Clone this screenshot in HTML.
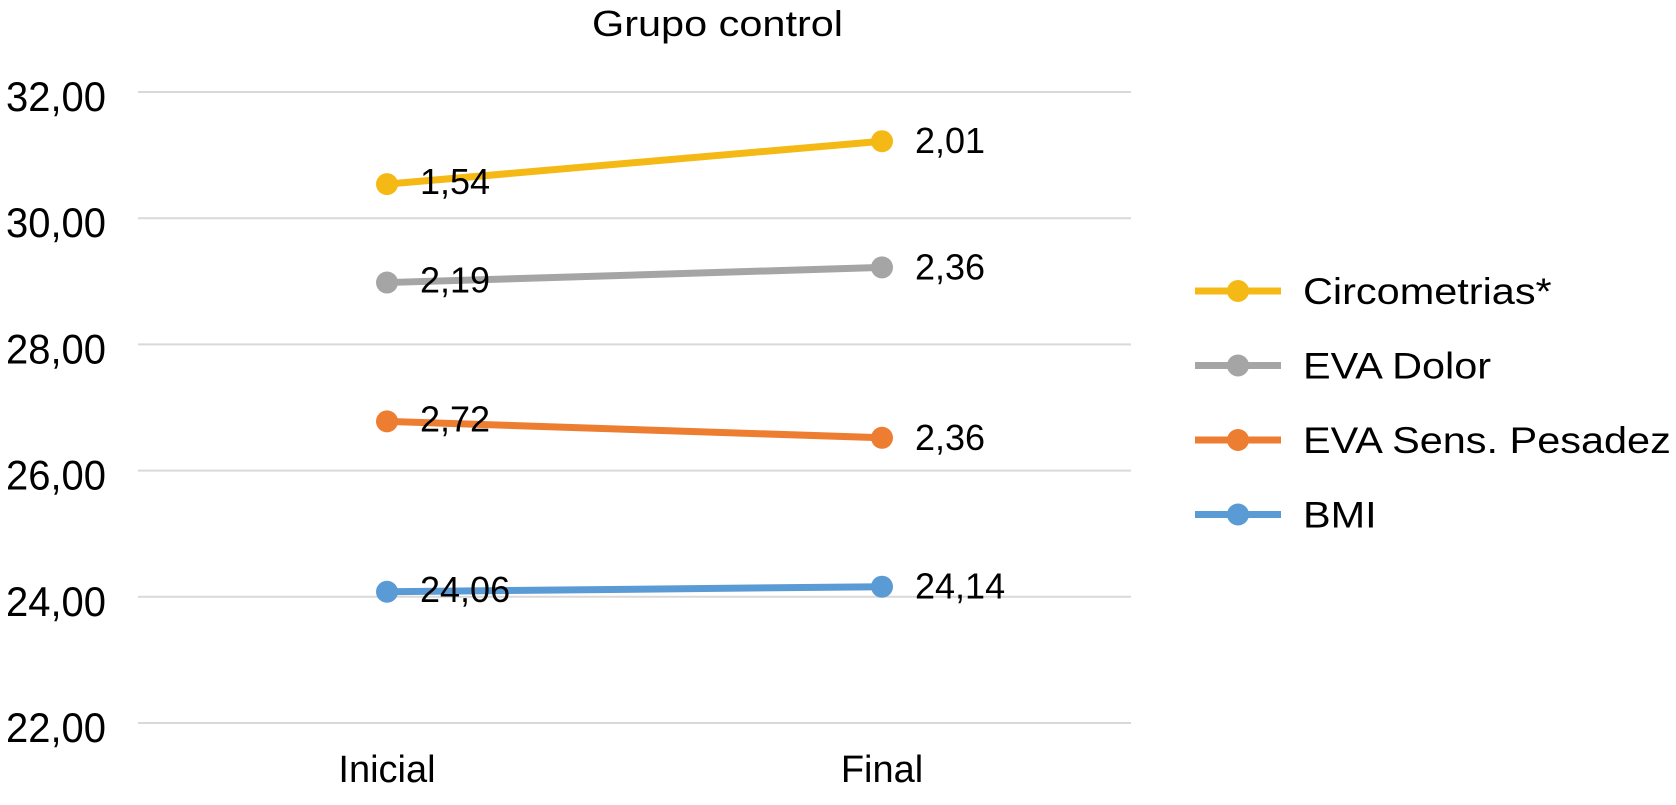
<!DOCTYPE html>
<html><head><meta charset="utf-8"><style>
html,body{margin:0;padding:0;background:#fff;}
svg{display:block;font-family:"Liberation Sans",sans-serif;}
</style></head><body>
<svg id="chart" width="1676" height="805">
<text x="592" y="36" font-size="36" textLength="251" lengthAdjust="spacingAndGlyphs">Grupo control</text>
<g id="grid"></g><g id="series"></g><g id="legend"></g>
</svg>
<script>
const categories=["Inicial","Final"];
const seriesNames=["Circometrias*","EVA Dolor","EVA Sens. Pesadez","BMI"];
const colors=["#F5B915","#A5A5A5","#ED7D31","#5B9BD5"];
const circValues=[30.54,31.22];
const dolorValues=[28.98,29.22];
const pesadezValues=[26.78,26.52];
const bmiValues=[24.08,24.16];
const circLabels=["1,54","2,01"];
const dolorLabels=["2,19","2,36"];
const pesadezLabels=["2,72","2,36"];
const bmiLabels=["24,06","24,14"];
const yTicks=[22,24,26,28,30,32];
const yTickLabels=["22,00","24,00","26,00","28,00","30,00","32,00"];
const NS="http://www.w3.org/2000/svg";
const y=v=>92+(32-v)*63.1;
const x=i=>387+i*495;
function mk(t,a,p){const e=document.createElementNS(NS,t);for(const k in a)e.setAttribute(k,a[k]);p.appendChild(e);return e;}
function stretch(t,k){const w=t.getComputedTextLength();t.setAttribute('textLength',w*k);t.setAttribute('lengthAdjust','spacingAndGlyphs');}
const grid=document.getElementById('grid');
yTicks.forEach((t,i)=>{
 const l=mk('line',{x1:138,x2:1131,y1:y(t),y2:y(t),stroke:'#d9d9d9','stroke-width':2},grid);
 
 
 const tx=mk('text',{x:6,y:y(t)+19,'font-size':42},grid);
 tx.textContent=yTickLabels[i];
 
 
 tx.setAttribute('textLength',100);
 tx.setAttribute('lengthAdjust','spacingAndGlyphs');
});
categories.forEach((c,i)=>{
 const tx=mk('text',{x:x(i),y:782,'font-size':38,'text-anchor':'middle'},grid);
 tx.textContent=c;
 
 
});
const allVals=[circValues,dolorValues,pesadezValues,bmiValues];
const allLabels=[circLabels,dolorLabels,pesadezLabels,bmiLabels];
const sg=document.getElementById('series');
allVals.forEach((vals,s)=>{
 const g=mk('g',{},sg);
 
 
 const pl=mk('polyline',{points:vals.map((v,i)=>x(i)+','+y(v)).join(' '),fill:'none',stroke:colors[s],'stroke-width':7},g);
 
 
 vals.forEach((v,i)=>{
  const c=mk('circle',{cx:x(i),cy:y(v),r:11,fill:colors[s]},g);
  
  
  const t=mk('text',{x:x(i)+(i==0?33:33),y:y(v)+(i==0?10:12),'font-size':36},g);
  t.textContent=allLabels[s][i];
  
  
 });
});
const lg=document.getElementById('legend');
seriesNames.forEach((n,s)=>{
 const yy=291+s*74.5;
 const g=mk('g',{},lg);
 
 
 mk('line',{x1:1195,x2:1281,y1:yy,y2:yy,stroke:colors[s],'stroke-width':7},g);
 mk('circle',{cx:1238,cy:yy,r:11,fill:colors[s]},g);
 const t=mk('text',{x:1303,y:yy+13,'font-size':37},g);
 t.textContent=n;
 stretch(t,1.12);
});
</script>
</body></html>
